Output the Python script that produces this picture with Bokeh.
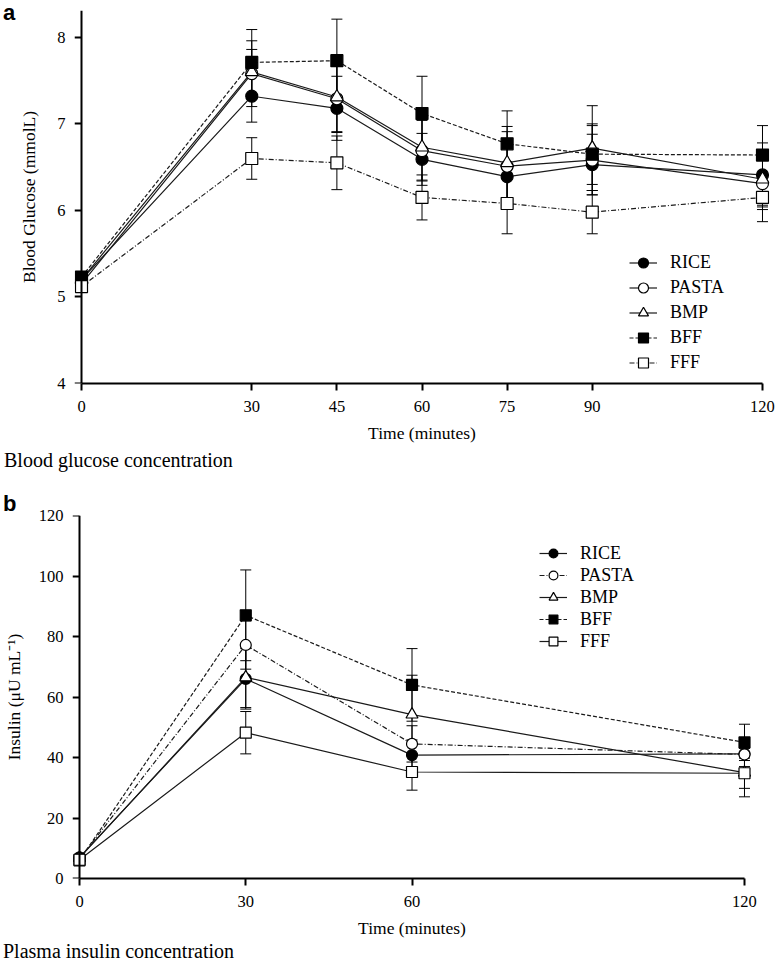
from bokeh.plotting import figure
from bokeh.models import (Range1d, FixedTicker, Whisker, TeeHead, ColumnDataSource,
                          Legend, LegendItem, LinearAxis, Div)
from bokeh.layouts import column, row
from bokeh.embed import file_html
from bokeh.resources import INLINE

series_names = ["RICE", "PASTA", "BMP", "BFF", "FFF"]

# ---- Panel a: blood glucose (mmol/L) ----
glucose_time = [0, 30, 45, 60, 75, 90, 120]
glucose_rice = [5.20, 7.32, 7.18, 6.59, 6.39, 6.53, 6.41]
glucose_pasta = [5.15, 7.58, 7.29, 6.69, 6.51, 6.58, 6.31]
glucose_bmp = [5.20, 7.60, 7.31, 6.73, 6.55, 6.72, 6.36]
glucose_bff = [5.23, 7.71, 7.73, 7.12, 6.77, 6.65, 6.64]
glucose_fff = [5.12, 6.60, 6.55, 6.15, 6.08, 5.98, 6.15]

glucose_rice_err = [0.06, 0.30, 0.37, 0.30, 0.33, 0.35, 0.37]
glucose_pasta_err = [0.05, 0.38, 0.39, 0.35, 0.40, 0.40, 0.30]
glucose_bmp_err = [0.06, 0.26, 0.40, 0.38, 0.42, 0.49, 0.30]
glucose_bff_err = [0.06, 0.38, 0.48, 0.43, 0.38, 0.35, 0.34]
glucose_fff_err = [0.05, 0.24, 0.31, 0.26, 0.35, 0.25, 0.28]

glucose_xticks = [0, 30, 45, 60, 75, 90, 120]
glucose_yticks = [4, 5, 6, 7, 8]

# ---- Panel b: plasma insulin (uU/mL) ----
insulin_time = [0, 30, 60, 120]
insulin_rice = [7.0, 66.0, 40.8, 41.2]
insulin_pasta = [6.5, 77.2, 44.5, 41.0]
insulin_bmp = [6.8, 66.5, 54.2, 35.0]
insulin_bff = [6.0, 87.0, 64.0, 45.0]
insulin_fff = [6.2, 48.2, 35.2, 34.8]

insulin_rice_err = [1.0, 10.0, 5.0, 5.0]
insulin_pasta_err = [1.0, 8.0, 6.0, 4.0]
insulin_bmp_err = [1.0, 10.0, 13.0, 8.0]
insulin_bff_err = [1.0, 15.0, 12.0, 6.0]
insulin_fff_err = [1.0, 7.0, 6.0, 5.0]

insulin_xticks = [0, 30, 60, 120]
insulin_yticks = [0, 20, 40, 60, 80, 100, 120]

SERIF = "Liberation Serif"
LINE_COLOR = "#1a1a1a"

markers = ["circle", "circle", "triangle", "square", "square"]
fills = ["black", "white", "white", "black", "white"]
dash_a = ["solid", "solid", "solid", "4 2", "5 2 1 2"]
dash_b = ["solid", "5 2 1 2", "solid", "4 2", "solid"]


def make_panel(t, vals, errs, dashes, xticks, yticks, yrange, ylabel, frame_w, frame_h,
               mb_left, mb_right, mb_top, mb_bottom, x_pad, msize, legend_loc, glyph_h,
               ylabel_standoff):
    p = figure(frame_width=frame_w, frame_height=frame_h,
               min_border_left=mb_left, min_border_right=mb_right,
               min_border_top=mb_top, min_border_bottom=mb_bottom,
               x_range=Range1d(xticks[0] - x_pad, xticks[-1] + x_pad),
               y_range=Range1d(*yrange),
               output_backend="svg", toolbar_location=None)
    p.outline_line_color = None
    p.grid.visible = False
    p.border_fill_color = None

    srcs = []
    for v, e in zip(vals, errs):
        src = ColumnDataSource(dict(x=t, y=v,
                                    upper=[a + b for a, b in zip(v, e)],
                                    lower=[a - b for a, b in zip(v, e)]))
        srcs.append(src)
        w = Whisker(source=src, base="x", upper="upper", lower="lower",
                    line_color="black", line_width=1,
                    upper_head=TeeHead(size=11, line_color="black", line_width=1),
                    lower_head=TeeHead(size=11, line_color="black", line_width=1))
        p.add_layout(w)

    line_rs = []
    for src, d in zip(srcs, dashes):
        line_rs.append(p.line("x", "y", source=src, line_color=LINE_COLOR,
                              line_width=1.2, line_dash=d))
    scat_rs = []
    for src, m, f in zip(srcs, markers, fills):
        sz = msize + 1 if m == "triangle" else msize
        scat_rs.append(p.scatter("x", "y", source=src, marker=m, size=sz,
                                 fill_color=f, line_color="black", line_width=1.2))

    items = [LegendItem(label=n, renderers=[lr, sr])
             for n, lr, sr in zip(series_names, line_rs, scat_rs)]
    # location = bottom-left corner of the legend, measured from the frame's bottom-left
    leg = Legend(items=items, location=legend_loc, glyph_width=28, glyph_height=glyph_h,
                 spacing=0, padding=0, margin=0, label_standoff=13,
                 border_line_color=None, background_fill_alpha=0,
                 label_text_font=SERIF, label_text_font_size="18px",
                 label_text_color="black")
    p.add_layout(leg)

    # x axis
    xa = p.xaxis[0]
    xa.ticker = FixedTicker(ticks=xticks)
    xa.bounds = (xticks[0], xticks[-1])
    xa.major_label_standoff = 10
    xa.axis_label = "Time (minutes)"
    xa.axis_label_text_font = SERIF
    xa.axis_label_text_font_style = "normal"
    xa.axis_label_text_font_size = "17.5px"
    xa.axis_label_text_color = "black"
    xa.axis_label_standoff = 8

    # y axis line + ticks drawn at x = 0
    ya = p.yaxis[0]
    ya.ticker = FixedTicker(ticks=yticks)
    ya.fixed_location = xticks[0]
    ya.major_label_overrides = {tk: "" for tk in yticks}

    for ax in (xa, ya):
        ax.axis_line_width = 2
        ax.axis_line_color = "black"
        ax.major_tick_line_width = 2
        ax.major_tick_line_color = "black"
        ax.major_tick_out = 7
        ax.major_tick_in = 0
        ax.minor_tick_line_color = None
        ax.major_label_text_font = SERIF
        ax.major_label_text_font_size = "16.5px"
        ax.major_label_text_color = "black"

    # y tick labels + axis title in the left panel
    yl = LinearAxis(ticker=FixedTicker(ticks=yticks), axis_line_color=None,
                    major_tick_line_color=None, minor_tick_line_color=None,
                    major_tick_out=0, major_tick_in=0, major_label_standoff=9,
                    major_label_text_font=SERIF, major_label_text_font_size="16.5px",
                    major_label_text_color="black",
                    axis_label=ylabel, axis_label_text_font=SERIF,
                    axis_label_text_font_style="normal", axis_label_text_font_size="17.5px",
                    axis_label_text_color="black", axis_label_standoff=ylabel_standoff)
    p.add_layout(yl, "left")
    return p


pa = make_panel(glucose_time,
                [glucose_rice, glucose_pasta, glucose_bmp, glucose_bff, glucose_fff],
                [glucose_rice_err, glucose_pasta_err, glucose_bmp_err, glucose_bff_err, glucose_fff_err],
                dash_a, glucose_xticks, glucose_yticks, (4, 8.31), "Blood Glucose (mmolL)",
                frame_w=695, frame_h=373, mb_left=57, mb_right=9, mb_top=10, mb_bottom=63,
                x_pad=1.2335, msize=12, legend_loc=(555, 8), glyph_h=25, ylabel_standoff=15)

pb = make_panel(insulin_time,
                [insulin_rice, insulin_pasta, insulin_bmp, insulin_bff, insulin_fff],
                [insulin_rice_err, insulin_pasta_err, insulin_bmp_err, insulin_bff_err, insulin_fff_err],
                dash_b, insulin_xticks, insulin_yticks, (0, 120), "Insulin (\u03bcU mL\u207b\u00b9)",
                frame_w=679, frame_h=363, mb_left=72, mb_right=26, mb_top=10, mb_bottom=63,
                x_pad=1.2632, msize=11, legend_loc=(467, 226), glyph_h=22, ylabel_standoff=12)

LETTER = ("font-family:'Liberation Sans',Arial,sans-serif;font-weight:bold;"
          "font-size:22px;line-height:25px;color:black;position:relative;")
CAPTION = ("font-family:'Liberation Serif','Times New Roman',serif;font-size:20px;"
           "line-height:20px;color:black;white-space:nowrap;position:relative;")

div_a = Div(text=f'<div style="{LETTER}left:3px;top:0px;">a</div>',
            width=16, height=446, margin=0)
div_mid = Div(text=(f'<div style="{CAPTION}left:4px;top:4px;">Blood glucose concentration</div>'
                    f'<div style="{LETTER}left:3px;top:25px;">b</div>'),
              width=777, height=59, margin=0)
div_cap_b = Div(text=f'<div style="{CAPTION}left:3px;top:0px;">Plasma insulin concentration</div>',
                width=777, height=20, margin=0)

layout = column(row(div_a, pa, spacing=0), div_mid, pb, div_cap_b, spacing=0)

with open("out.html", "w") as f:
    f.write(file_html(layout, INLINE))
